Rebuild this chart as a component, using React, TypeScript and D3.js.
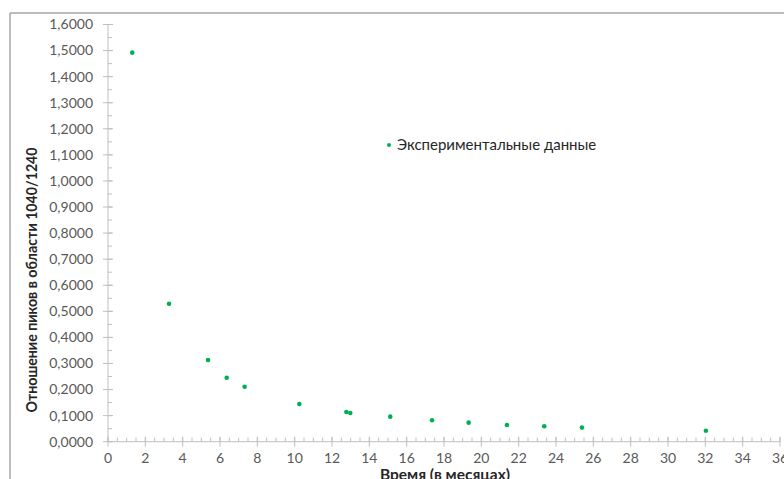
import React from "react";
import * as d3 from "d3";

const months = [1.3, 3.27, 5.36, 6.36, 7.32, 10.25, 12.77, 12.98, 15.12, 17.36, 19.32, 21.37, 23.37, 25.39, 32.03];
const ratios = [1.492, 0.529, 0.313, 0.2455, 0.211, 0.1446, 0.114, 0.11, 0.096, 0.082, 0.073, 0.064, 0.059, 0.054, 0.042];
const xTicks = d3.range(0, 37, 2);
const yTicks = d3.range(0, 17).map((i) => i / 10);
const seriesName = "Экспериментальные данные";
const xTitle = "Время (в месяцах)";
const yTitle = "Отношение пиков в области 1040/1240";

const W = 784;
const H = 479;
const FONT = "Lato, 'Open Sans', sans-serif";

export default function App() {
  const x = d3.scaleLinear().domain([0, 36]).range([108, 780]);
  const y = d3.scaleLinear().domain([0, 1.6]).range([441.7, 24.5]);
  const xMinor = d3.range(0, 36.01, 0.5);
  const yMinor = d3.range(0, 1.601, 0.05);
  const fmt = (v: number) => v.toFixed(4).replace(".", ",");
  const axisColor = "#bfbfbf";
  const textColor = "#595959";
  return (
    <svg width={W} height={H} style={{ position: "absolute", left: 0, top: 0 }}>
      <rect x={0} y={0} width={W} height={H} fill="#fff" />
      <line x1={10} y1={13} x2={W} y2={13} stroke="#a6a6a6" strokeWidth={1.5} />
      <line x1={10} y1={13} x2={10} y2={H} stroke="#a6a6a6" strokeWidth={1.5} />
      {/* y axis */}
      <line x1={x(0)} y1={y(0)} x2={x(0)} y2={y(1.6)} stroke={axisColor} />
      {yMinor.map((v, i) => (
        <line key={"ym" + i} x1={x(0)} x2={x(0) + 4} y1={y(v)} y2={y(v)} stroke={axisColor} />
      ))}
      {yTicks.map((v, i) => (
        <g key={"yt" + i}>
          <line x1={x(0) - 5} x2={x(0) + 5} y1={y(v)} y2={y(v)} stroke={axisColor} />
          <text x={93} y={y(v)} dy="0.35em" textAnchor="end" fontFamily={FONT} fontSize={14} fill={textColor}>
            {fmt(v)}
          </text>
        </g>
      ))}
      {/* x axis */}
      <line x1={x(0)} y1={y(0)} x2={x(36)} y2={y(0)} stroke={axisColor} />
      {xMinor.map((v, i) => (
        <line key={"xm" + i} x1={x(v)} x2={x(v)} y1={y(0) - 4} y2={y(0)} stroke={axisColor} />
      ))}
      {xTicks.map((v, i) => (
        <g key={"xt" + i}>
          <line x1={x(v)} x2={x(v)} y1={y(0) - 5} y2={y(0) + 5} stroke={axisColor} />
          <text x={x(v)} y={463} textAnchor="middle" fontFamily={FONT} fontSize={14} fill={textColor}>
            {v}
          </text>
        </g>
      ))}
      {/* points */}
      {months.map((m, i) => (
        <circle key={"p" + i} cx={x(m)} cy={y(ratios[i])} r={2.3} fill="#00b050" />
      ))}
      {/* legend */}
      <circle cx={389} cy={145} r={2} fill="#00b050" />
      <text x={397} y={145} dy="0.35em" fontFamily={FONT} fontSize={15} fill="#262626">
        {seriesName}
      </text>
      {/* titles */}
      <text
        transform={`translate(37,${280}) rotate(-90)`}
        textAnchor="middle"
        fontFamily={FONT}
        fontSize={14.2}
        fontWeight="bold"
        fill="#262626"
      >
        {yTitle}
      </text>
      <text x={445} y={480} textAnchor="middle" fontFamily={FONT} fontSize={15.5} fontWeight="bold" fill="#262626">
        {xTitle}
      </text>
    </svg>
  );
}
